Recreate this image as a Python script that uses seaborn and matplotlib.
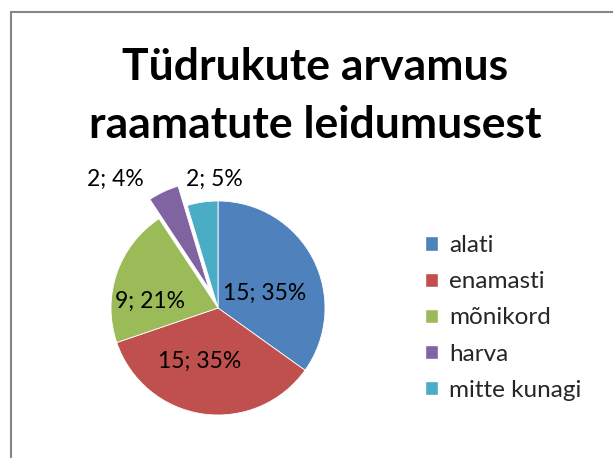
import matplotlib
matplotlib.use("Agg")
import matplotlib.pyplot as plt
from matplotlib.patches import Rectangle
import numpy as np
import seaborn as sns

# data
categories = ["alati", "enamasti", "mõnikord", "harva", "mitte kunagi"]
counts = [15, 15, 9, 2, 2]
percents = [35, 35, 21, 4, 5]
title_lines = ["Tüdrukute arvamus", "raamatute leidumusest"]

colors = ["#4F81BD", "#C0504D", "#9BBB59", "#8064A2", "#4BACC6"]
explode = [0, 0, 0, 0.2, 0]

sns.set_theme(style="white")
plt.rcParams['font.family'] = ['Lato', 'DejaVu Sans']

W, H = 613, 458
fig = plt.figure(figsize=(W / 100, H / 100), dpi=100)
fig.patch.set_facecolor("white")

# pie axes: centre (218, 308), radius 107 px
cx, cy, r = 218, 308, 107
ax = fig.add_axes([(cx - r) / W, (H - cy - r) / H, 2 * r / W, 2 * r / H])
wedges, _ = ax.pie(counts, colors=colors, explode=explode, startangle=90,
                   counterclock=False, radius=1,
                   wedgeprops=dict(clip_on=False, linewidth=0.6, edgecolor="white"))
ax.set_xlim(-1, 1)
ax.set_ylim(-1, 1)
ax.set_aspect("equal")
ax.axis("off")

# label positions (data coords of pie axes)
label_pos = [(0.44, 0.14), (-0.17, -0.50), (-0.64, 0.06), (-0.96, 1.20), (-0.03, 1.20)]
for (x, y), c, p in zip(label_pos, counts, percents):
    ax.text(x, y, f"{c}; {p}%", ha="center", va="center", fontsize=16.5,
            color="black", clip_on=False)

# title, two lines (baselines at 80 px and 138 px from top)
for line, base in zip(title_lines, [80, 138]):
    fig.text(315 / W, 1 - base / H, line, ha="center", va="baseline", fontsize=32,
             fontweight="bold", color="black")

handles = [Rectangle((0, 0), 1, 1, facecolor=c) for c in colors]
fig.legend(handles, categories, loc="center left", bbox_to_anchor=(403 / W, 1 - 318 / H),
           frameon=False, fontsize=17.5, handlelength=0.55, handleheight=0.55,
           handletextpad=0.45, labelspacing=0.62)

# chart border
fig.add_artist(Rectangle((11 / W, -0.1), 1.2, (H - 12) / H + 0.1, transform=fig.transFigure,
                         fill=False, edgecolor="#868686", linewidth=1.5))

fig.savefig("out.png", dpi=100)
